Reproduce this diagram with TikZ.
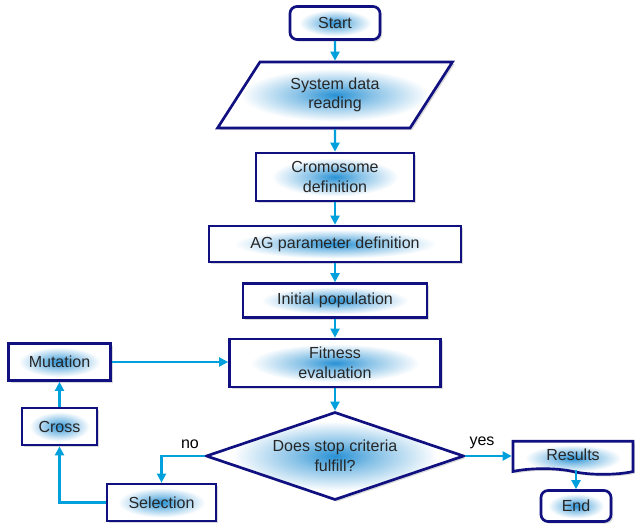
\documentclass[tikz,border=0pt]{standalone}
\usepackage{fontspec}
\setmainfont{Liberation Sans}
\usetikzlibrary{shapes.geometric,shapes.symbols,shadows,arrows.meta}
\definecolor{navy}{RGB}{16,16,128}
\definecolor{arrowblue}{RGB}{0,160,220}
\definecolor{glowc}{RGB}{40,145,212}
\pgfdeclareradialshading{glow}{\pgfpoint{0bp}{0bp}}{color(0bp)=(glowc); color(8bp)=(glowc!55!white); color(20bp)=(white); color(50bp)=(white)}
\begin{document}
\begin{tikzpicture}[x=0.025cm, y=-0.025cm, font=\fontsize{11.4}{14}\selectfont,
	box/.style={draw=navy, line width=1.9pt, shading=glow, align=center, inner sep=0pt, text=black!85,
		drop shadow={shadow xshift=1.5pt, shadow yshift=-1.5pt, fill=black, opacity=0.15}},
	link/.style={draw=arrowblue, line width=1.5pt, -{Triangle[length=6.5pt,width=6.5pt]}}]
	\useasboundingbox (0,0) rectangle (635,531);
	\node[box, rounded corners=5pt, minimum width=2.25cm, minimum height=0.825cm] (start) at (335,23) {Start};
	\node[box, trapezium, trapezium left angle=54, trapezium right angle=126, trapezium stretches=true, minimum width=5.925cm, minimum height=1.65cm] (read) at (335,95) {System data\\reading};
	\node[box, minimum width=3.95cm, minimum height=1.2cm] (crom) at (335,177) {Cromosome\\definition};
	\node[box, minimum width=6.3cm, minimum height=0.9cm] (agpar) at (335,244) {AG parameter definition};
	\node[box, minimum width=4.6cm, minimum height=0.85cm] (init) at (335,300.5) {Initial population};
	\node[box, minimum width=5.275cm, minimum height=1.2cm] (fit) at (335,363) {Fitness\\evaluation};
	\node[box, diamond, aspect=2.9, minimum width=6.45cm, minimum height=2.2cm] (stop) at (335,456) {Does stop criteria\\fulfill?};
	\node[box, tape, tape bend top=none, tape bend bottom=out and in, tape bend height=4pt, minimum width=3cm, minimum height=0.825cm] (res) at (573,455) {Results};
	\node[box, rounded corners=5pt, minimum width=1.75cm, minimum height=0.775cm] (end) at (576,506) {End};
	\node[box, minimum width=2.55cm, minimum height=0.925cm] (mut) at (59.5,362) {Mutation};
	\node[box, minimum width=1.875cm, minimum height=0.925cm] (cross) at (59.5,426.5) {Cross};
	\node[box, minimum width=2.725cm, minimum height=0.925cm] (sel) at (161.5,502.5) {Selection};

	\draw[link] (start) -- (read);
	\draw[link] (read) -- (crom);
	\draw[link] (crom) -- (agpar);
	\draw[link] (agpar) -- (init);
	\draw[link] (init) -- (fit);
	\draw[link] (fit) -- (stop);
	\draw[link] (stop.east) -- (stop.east -| res.west) node[pos=0.36, above=1pt] {yes};
	\draw[link] (res.south -| end.north) -- (end.north);
	\draw[link] (stop.west) -| (sel.north) node[pos=0.17, above=1pt] {no};
	\draw[link] (sel.west) -| (cross.south);
	\draw[link] (cross) -- (mut);
	\draw[link] (mut.east) -- (mut.east -| fit.west);
\end{tikzpicture}
\end{document}
